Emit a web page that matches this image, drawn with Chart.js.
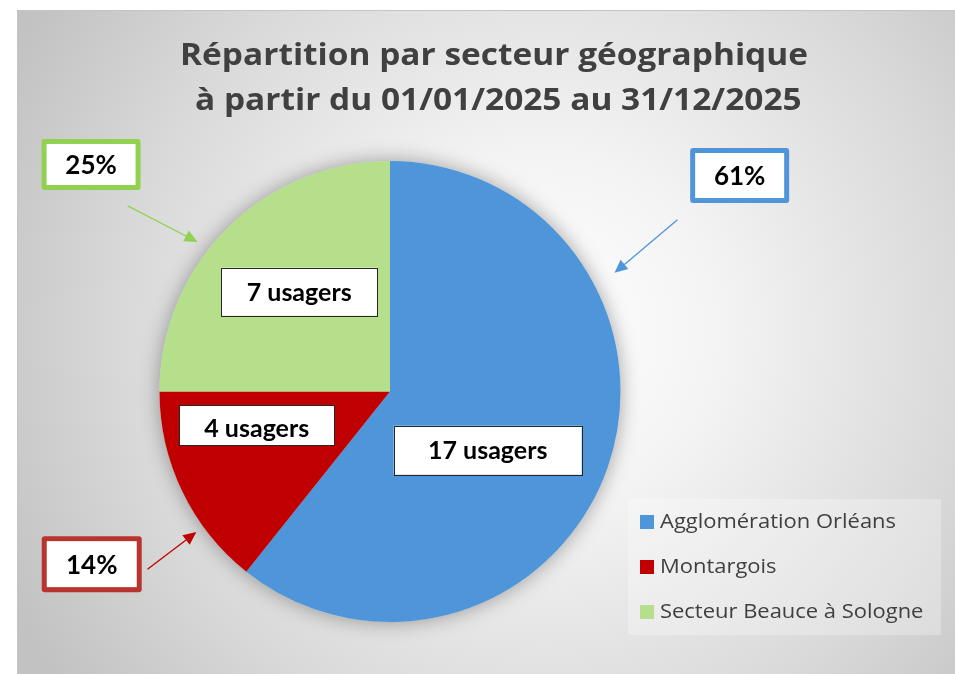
<!DOCTYPE html>
<html><head><meta charset="utf-8">
<script src="https://cdn.jsdelivr.net/npm/chart.js@4.4.1/dist/chart.umd.min.js"></script>
<style>html,body{margin:0;padding:0;background:#fff}#wrap{width:955px;height:674px;position:relative}</style>
</head><body><div id="wrap"><canvas id="c" width="955" height="674"></canvas></div>
<script>
const categories = ['Agglomération Orléans', 'Montargois', 'Secteur Beauce à Sologne'];
const usagers = [17, 4, 7];
const titleLines = ['Répartition par secteur géographique', ' à partir du 01/01/2025 au 31/12/2025'];
const sliceColors = ['#4E95D9', '#C00000', '#B6DF8B'];
const calloutColors = ['#4E95D9', '#B8342E', '#92D050'];
const arrowColors = ['#4E95D9', '#C00000', '#92D050'];

// annotation placement, in units of the pie radius relative to its centre
const valueBoxes = [
  {dx: 0.424, dy: 0.255, w: 188, h: 49, ty: 1},
  {dx: -0.578, dy: 0.147, w: 155, h: 40, ty: 4},
  {dx: -0.394, dy: -0.433, w: 156, h: 48, ty: 1}
];
const pctBoxes = [
  {dx: 1.517, dy: -0.937, w: 99, h: 55, ax0: 1.247, ay0: -0.745, ax1: 0.974, ay1: -0.515},
  {dx: -1.294, dy: 0.749, w: 100, h: 56, ax0: -1.052, ay0: 0.771, ax1: -0.840, ay1: 0.610},
  {dx: -1.297, dy: -0.985, w: 99, h: 51, ax0: -1.138, ay0: -0.805, ax1: -0.835, ay1: -0.649}
];

function roundRect(ctx, x, y, w, h, r) {
  ctx.beginPath();
  ctx.moveTo(x + r, y);
  ctx.lineTo(x + w - r, y); ctx.quadraticCurveTo(x + w, y, x + w, y + r);
  ctx.lineTo(x + w, y + h - r); ctx.quadraticCurveTo(x + w, y + h, x + w - r, y + h);
  ctx.lineTo(x + r, y + h); ctx.quadraticCurveTo(x, y + h, x, y + h - r);
  ctx.lineTo(x, y + r); ctx.quadraticCurveTo(x, y, x + r, y);
  ctx.closePath();
}

function arrow(ctx, x0, y0, x1, y1, color) {
  const a = Math.atan2(y1 - y0, x1 - x0);
  const L = 13, W = 6;
  ctx.save();
  ctx.strokeStyle = color; ctx.fillStyle = color; ctx.lineWidth = 1.3;
  ctx.beginPath(); ctx.moveTo(x0, y0);
  ctx.lineTo(x1 - Math.cos(a) * L, y1 - Math.sin(a) * L); ctx.stroke();
  ctx.beginPath();
  ctx.moveTo(x1, y1);
  ctx.lineTo(x1 - Math.cos(a) * L - Math.sin(a) * W, y1 - Math.sin(a) * L + Math.cos(a) * W);
  ctx.lineTo(x1 - Math.cos(a) * L + Math.sin(a) * W, y1 - Math.sin(a) * L - Math.cos(a) * W);
  ctx.closePath(); ctx.fill();
  ctx.restore();
}

// draw text stretched horizontally by sx (to mimic the wider original face)
function wideText(ctx, text, x, y, sx) {
  ctx.save();
  ctx.translate(x, y);
  ctx.scale(sx, 1);
  ctx.fillText(text, 0, 0);
  ctx.restore();
}

const decor = {
  id: 'decor',
  beforeDraw(chart) {
    const ctx = chart.ctx;
    ctx.save();
    ctx.fillStyle = '#ffffff';
    ctx.fillRect(0, 0, chart.width, chart.height);
    const g = ctx.createRadialGradient(545, 330, 0, 545, 330, 600);
    g.addColorStop(0, '#ffffff');
    g.addColorStop(0.3, '#f3f3f3');
    g.addColorStop(0.7, '#d9d9d9');
    g.addColorStop(1, '#c2c2c2');
    ctx.fillStyle = g;
    ctx.fillRect(17, 10, chart.width - 17, chart.height - 10);
    ctx.strokeStyle = '#c4c4c4'; ctx.lineWidth = 1;
    ctx.beginPath(); ctx.moveTo(17.5, chart.height); ctx.lineTo(17.5, 10.5); ctx.lineTo(chart.width, 10.5); ctx.stroke();
    ctx.restore();
  },
  beforeDatasetsDraw(chart) {
    const arc = chart.getDatasetMeta(0).data[0];
    const ctx = chart.ctx;
    ctx.save();
    ctx.shadowColor = 'rgba(0,0,0,0.35)';
    ctx.shadowBlur = 20;
    ctx.fillStyle = '#dddddd';
    ctx.beginPath(); ctx.arc(arc.x, arc.y, arc.outerRadius, 0, Math.PI * 2); ctx.fill();
    ctx.restore();
  },
  afterDatasetsDraw(chart) {
    const ctx = chart.ctx;
    const meta = chart.getDatasetMeta(0);
    const cx = meta.data[0].x, cy = meta.data[0].y, r = meta.data[0].outerRadius;
    const total = usagers.reduce((a, b) => a + b, 0);
    ctx.save();
    // title
    ctx.fillStyle = '#404040';
    ctx.font = 'bold 30px "Open Sans"';
    ctx.textAlign = 'center'; ctx.textBaseline = 'alphabetic';
    const tsx = 628 / ctx.measureText(titleLines[0]).width;
    wideText(ctx, titleLines[0], 494, 65, tsx);
    wideText(ctx, titleLines[1], 494, 110, tsx);

    // value boxes
    usagers.forEach((v, i) => {
      const b = valueBoxes[i];
      const x = cx + b.dx * r, y = cy + b.dy * r;
      ctx.fillStyle = '#ffffff';
      ctx.fillRect(x - b.w / 2, y - b.h / 2, b.w, b.h);
      ctx.strokeStyle = '#262626'; ctx.lineWidth = 1;
      ctx.strokeRect(Math.round(x - b.w / 2) + 0.5, Math.round(y - b.h / 2) + 0.5, b.w, b.h);
      ctx.fillStyle = '#000000';
      ctx.font = 'bold 25px Lato';
      ctx.textAlign = 'center'; ctx.textBaseline = 'middle';
      ctx.fillText(v + ' usagers', x, y + b.ty);
    });

    // percentage callouts
    usagers.forEach((v, i) => {
      const b = pctBoxes[i];
      const x = cx + b.dx * r, y = cy + b.dy * r;
      arrow(ctx, cx + b.ax0 * r, cy + b.ay0 * r, cx + b.ax1 * r, cy + b.ay1 * r, arrowColors[i]);
      roundRect(ctx, x - b.w / 2, y - b.h / 2, b.w, b.h, 3);
      ctx.fillStyle = calloutColors[i]; ctx.fill();
      ctx.fillStyle = '#ffffff';
      ctx.fillRect(x - b.w / 2 + 5, y - b.h / 2 + 5, b.w - 10, b.h - 10);
      ctx.fillStyle = '#000000';
      ctx.font = 'bold 26px Lato';
      ctx.textAlign = 'center'; ctx.textBaseline = 'middle';
      ctx.fillText(Math.round(v / total * 100) + '%', x, y + 1);
    });

    // legend
    ctx.fillStyle = 'rgba(255,255,255,0.28)';
    ctx.fillRect(628, 499, 313, 136);
    ctx.font = '20px "Open Sans"';
    ctx.textAlign = 'left'; ctx.textBaseline = 'middle';
    const lsx = 236 / ctx.measureText(categories[0]).width;
    categories.forEach((c, i) => {
      const y = 522 + i * 45;
      ctx.fillStyle = sliceColors[i];
      ctx.fillRect(640, y - 7, 14, 14);
      ctx.fillStyle = '#404040';
      wideText(ctx, c, 660, y, lsx);
    });
    ctx.restore();
  }
};

new Chart(document.getElementById('c'), {
  type: 'pie',
  data: {
    labels: categories,
    datasets: [{data: usagers, backgroundColor: sliceColors, borderWidth: 0, hoverOffset: 0, offset: 0}]
  },
  options: {
    responsive: false,
    animation: false,
    events: [],
    layout: {padding: {left: 159, right: 334, top: 161, bottom: 52}},
    plugins: {legend: {display: false}, title: {display: false}, tooltip: {enabled: false}}
  },
  plugins: [decor]
});
</script>
</body></html>
